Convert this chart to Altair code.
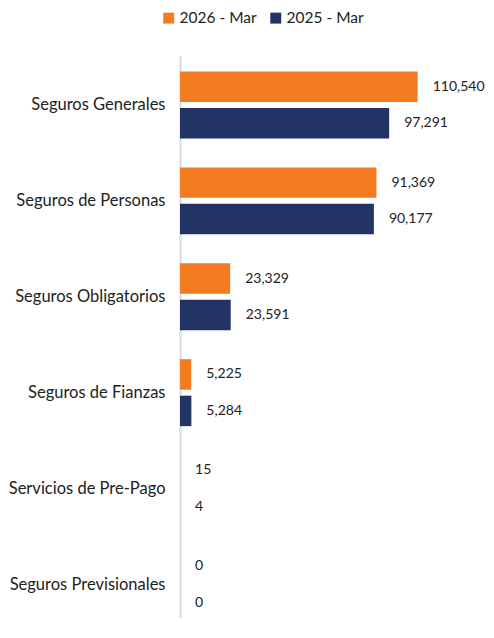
import altair as alt
import pandas as pd

categories = ["Seguros Generales", "Seguros de Personas", "Seguros Obligatorios",
              "Seguros de Fianzas", "Servicios de Pre-Pago", "Seguros Previsionales"]
series = ["2026 - Mar", "2025 - Mar"]
values_2026 = [110540, 91369, 23329, 5225, 15, 0]
values_2025 = [97291, 90177, 23591, 5284, 4, 0]
colors = ["#f47b20", "#223366"]

rows = []
for c, a, b in zip(categories, values_2026, values_2025):
    rows.append({"cat": c, "serie": series[0], "val": a})
    rows.append({"cat": c, "serie": series[1], "val": b})
df = pd.DataFrame(rows)

FONT = "Lato"

y = alt.Y("cat:N", sort=categories, title=None,
          scale=alt.Scale(paddingInner=0.302, paddingOuter=0.0806, align=1),
          axis=alt.Axis(domainColor="#d9d9e0", domainWidth=2, ticks=False,
                        labelPadding=15, labelFontSize=16.5, labelFont=FONT,
                        labelColor="#222222", labelLimit=300))
yoff = alt.YOffset("serie:N", sort=series,
                   scale=alt.Scale(paddingInner=0.164, paddingOuter=0))
x = alt.X("val:Q", title=None, scale=alt.Scale(domain=[0, 120000]), axis=None)

bars = alt.Chart(df).mark_bar().encode(
    x=x, y=y, yOffset=yoff,
    color=alt.Color("serie:N", sort=series,
                    scale=alt.Scale(domain=series, range=colors),
                    legend=alt.Legend(title=None, orient="none", direction="horizontal",
                                      legendX=-19, legendY=-46,
                                      symbolType="square", symbolSize=120,
                                      symbolStrokeWidth=0, labelOffset=3,
                                      labelFontSize=15.5, labelFont=FONT,
                                      labelColor="#222222", columnPadding=11,
                                      symbolOffset=0))
)

text = alt.Chart(df).mark_text(align="left", baseline="middle", dx=15,
                               fontSize=14, font=FONT, color="#222222").encode(
    x=x, y=y, yOffset=yoff,
    text=alt.Text("val:Q", format=",")
)

chart = (bars + text).properties(
    width=258, height=562,
    padding={"left": 0, "top": 2, "right": 0, "bottom": 0}
).configure_view(stroke=None, strokeWidth=0)

chart.save("out.html", embed_options={"renderer": "svg", "actions": False})
